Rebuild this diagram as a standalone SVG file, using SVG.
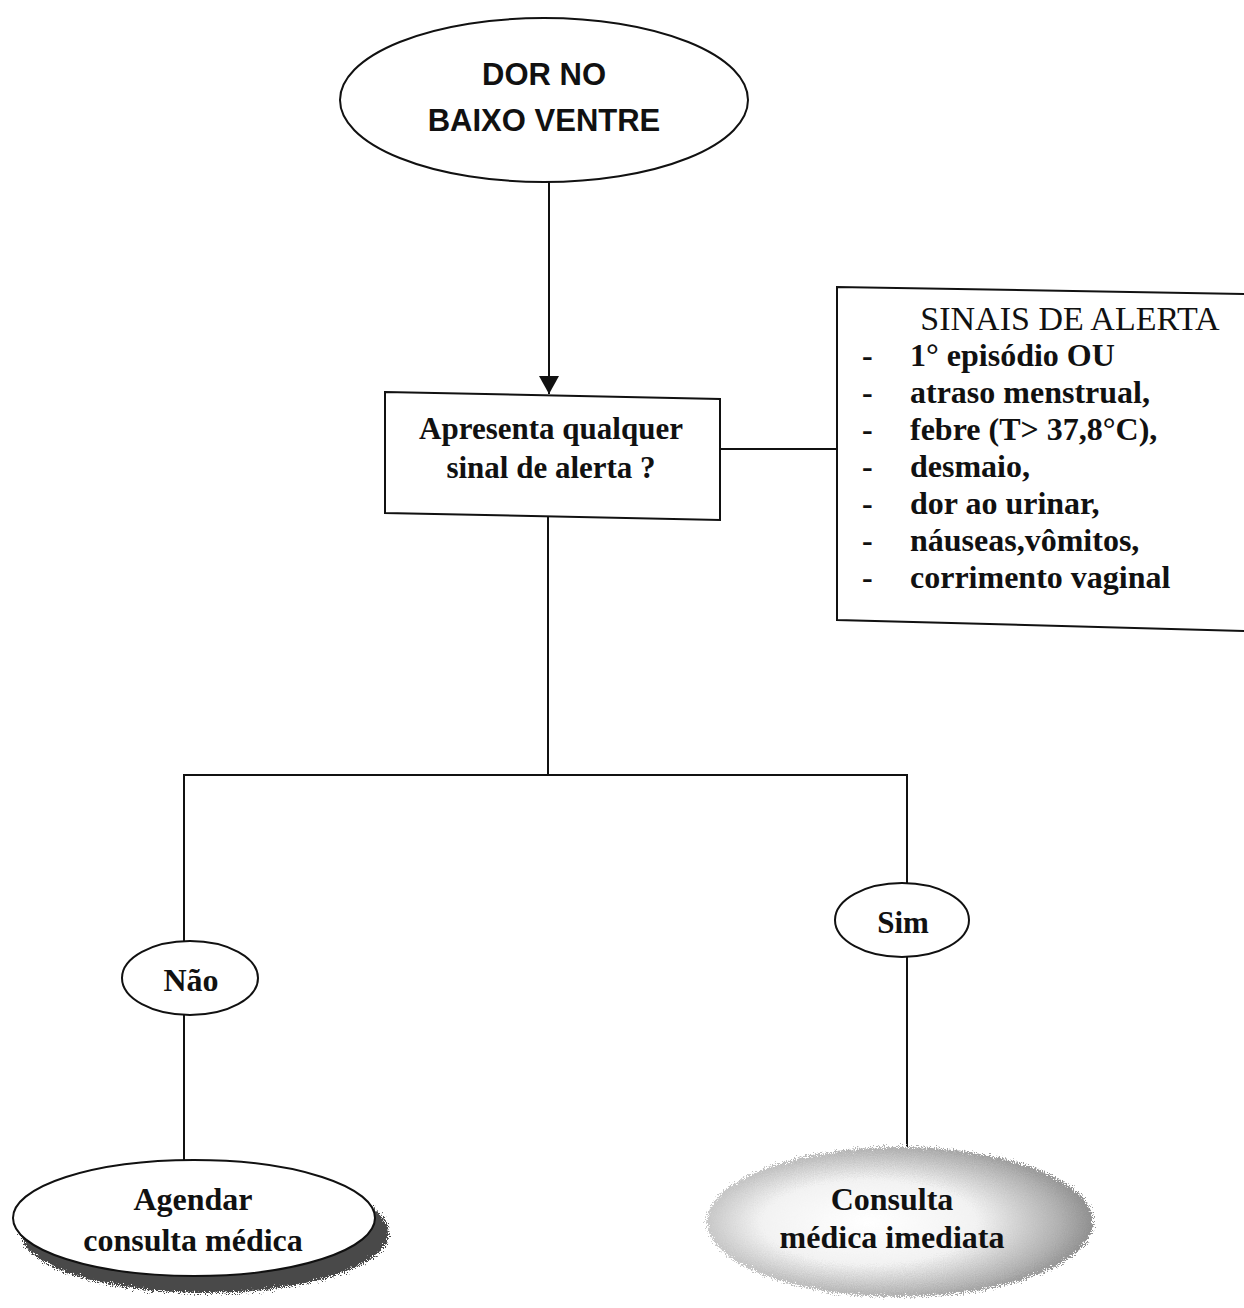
<svg xmlns="http://www.w3.org/2000/svg" width="1244" height="1308" viewBox="0 0 1244 1308">
  <defs>
    <style>
      .ln { stroke: #111; stroke-width: 2; fill: none; }
      .shape { stroke: #111; stroke-width: 2; fill: #fff; }
      .sans { font-family: "Liberation Sans", Arial, sans-serif; font-weight: bold; fill: #111; }
      .serif { font-family: "Liberation Serif", "Times New Roman", serif; fill: #111; }
      .b { font-weight: bold; }
      .mid { text-anchor: middle; }
    </style>
    <marker id="arrow" viewBox="0 0 18 20" refX="18" refY="10" markerWidth="18" markerHeight="20" markerUnits="userSpaceOnUse" orient="auto">
      <path d="M0,0 L18,10 L0,20 Z" fill="#111"/>
    </marker>
    <radialGradient id="shade" cx="0.42" cy="0.5" r="0.62">
      <stop offset="0" stop-color="#ffffff"/>
      <stop offset="0.45" stop-color="#f2f2f2"/>
      <stop offset="0.8" stop-color="#b0b0b0"/>
      <stop offset="1" stop-color="#808080"/>
    </radialGradient>
    <filter id="grain" x="-5%" y="-10%" width="110%" height="120%">
      <feTurbulence type="fractalNoise" baseFrequency="0.9" numOctaves="2" seed="3" result="n"/>
      <feDisplacementMap in="SourceGraphic" in2="n" scale="12" xChannelSelector="R" yChannelSelector="G"/>
    </filter>
  </defs>

  <rect width="1244" height="1308" fill="#fff"/>

  <!-- connectors -->
  <g id="connectors">
    <line class="ln" x1="549" y1="182" x2="549" y2="394" marker-end="url(#arrow)"/>
    <line class="ln" x1="720" y1="449" x2="838" y2="449"/>
    <line class="ln" x1="548" y1="517" x2="548" y2="775"/>
    <line class="ln" x1="183" y1="775" x2="908" y2="775"/>
    <line class="ln" x1="184" y1="775" x2="184" y2="942"/>
    <line class="ln" x1="184" y1="1015" x2="184" y2="1160"/>
    <line class="ln" x1="907" y1="775" x2="907" y2="884"/>
    <line class="ln" x1="907" y1="957" x2="907" y2="1147"/>
  </g>

  <!-- start -->
  <g id="node-dor">
    <ellipse class="shape" cx="544" cy="100" rx="204" ry="82"/>
    <text class="sans mid" x="544" y="85" font-size="31">DOR NO</text>
    <text class="sans mid" x="544" y="131" font-size="31">BAIXO VENTRE</text>
  </g>

  <!-- decision -->
  <g id="node-pergunta">
    <polygon class="shape" points="385,392 720,399 720,520 385,513"/>
    <text class="serif b mid" x="551" y="439" font-size="31">Apresenta qualquer</text>
    <text class="serif b mid" x="551" y="478" font-size="31">sinal de alerta ?</text>
  </g>

  <!-- warning signs list -->
  <g id="node-sinais">
    <path class="shape" d="M1246,294 L837,287 L837,620 L1246,631"/>
    <text class="serif mid" x="1070" y="330" font-size="34">SINAIS DE ALERTA</text>
    <g class="serif b" font-size="32">
      <text x="862" y="366">-</text>
      <text x="862" y="403">-</text>
      <text x="862" y="440">-</text>
      <text x="862" y="477">-</text>
      <text x="862" y="514">-</text>
      <text x="862" y="551">-</text>
      <text x="862" y="588">-</text>
      <text x="910" y="366">1° episódio OU</text>
      <text x="910" y="403">atraso menstrual,</text>
      <text x="910" y="440">febre (T&gt; 37,8°C),</text>
      <text x="910" y="477">desmaio,</text>
      <text x="910" y="514">dor ao urinar,</text>
      <text x="910" y="551">náuseas,vômitos,</text>
      <text x="910" y="588">corrimento vaginal</text>
    </g>
  </g>

  <!-- answers -->
  <g id="node-nao">
    <ellipse class="shape" cx="190" cy="978" rx="68" ry="37"/>
    <text class="serif b mid" x="191" y="991" font-size="32">Não</text>
  </g>
  <g id="node-sim">
    <ellipse class="shape" cx="902" cy="920" rx="67" ry="37"/>
    <text class="serif b mid" x="903" y="933" font-size="31">Sim</text>
  </g>

  <!-- outcomes -->
  <g id="node-agendar">
    <ellipse cx="205" cy="1233" rx="184" ry="60" fill="#4a4a4a" filter="url(#grain)"/>
    <ellipse class="shape" cx="194" cy="1218" rx="181" ry="58"/>
    <text class="serif b mid" x="193" y="1210" font-size="32">Agendar</text>
    <text class="serif b mid" x="193" y="1251" font-size="32">consulta médica</text>
  </g>
  <g id="node-consulta">
    <ellipse cx="900" cy="1222" rx="193" ry="75" fill="url(#shade)" filter="url(#grain)"/>
    <text class="serif b mid" x="892" y="1210" font-size="32">Consulta</text>
    <text class="serif b mid" x="892" y="1248" font-size="32">médica imediata</text>
  </g>
</svg>
